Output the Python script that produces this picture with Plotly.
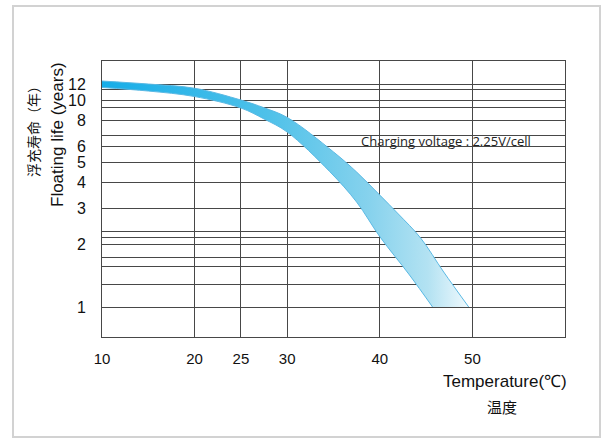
import math
import plotly.graph_objects as go

# ---- data ----
temp_upper = [10, 15, 20, 25, 27.5, 30, 35, 37.5, 40, 42, 44.4, 46.9, 49.6]
life_upper = [12.41, 12.0, 11.45, 10.04, 9.21, 8.27, 5.63, 4.50, 3.48, 2.82, 2.16, 1.477, 1.0]

temp_lower = [10, 15, 20, 25, 27.5, 30, 34.6, 37.5, 40, 43.2, 45.7]
life_lower = [11.55, 11.10, 10.44, 9.19, 8.13, 7.03, 4.52, 3.22, 2.19, 1.43, 1.0]

x_ticks = [10, 20, 25, 30, 40, 50, 60]
x_labels = ["10", "20", "25", "30", "40", "50", ""]

y_ticks = [12, 11.27, 10, 9.19, 8, 6.80, 6, 5, 4, 3, 2.33, 2.16, 2, 1.727, 1.562, 1.292, 1]
y_labels = ["12", "", "10", "", "8", "", "6", "5", "4", "3", "", "", "2", "", "", "", "1"]

note_text = "Charging voltage : 2.25V/cell"
note_pos = (47.1, 6.36)

GRID = "#474747"
EDGE = "#5ab9e4"

fig = go.Figure()
fig.add_trace(go.Scatter(
    x=temp_lower, y=life_lower, mode="lines",
    line=dict(color=EDGE, width=1, shape="spline", smoothing=1.0),
    hoverinfo="skip", showlegend=False,
))
fig.add_trace(go.Scatter(
    x=temp_upper, y=life_upper, mode="lines",
    line=dict(color=EDGE, width=1, shape="spline", smoothing=1.0),
    fill="tonexty",
    fillgradient=dict(
        type="horizontal", start=10, stop=50,
        colorscale=[[0, "#16ade8"], [0.45, "#4fc1e9"], [0.72, "#86d2ed"],
                    [0.88, "#b3e2f2"], [1, "#f5fbfe"]],
    ),
    hoverinfo="skip", showlegend=False,
))

fig.update_xaxes(
    range=[10, 60], tickvals=x_ticks, ticktext=x_labels,
    showgrid=True, gridcolor=GRID, gridwidth=1,
    showline=True, linecolor=GRID, linewidth=1, mirror=True,
    zeroline=False, ticks="", ticklabelstandoff=8,
    tickfont=dict(family="Liberation Sans, Arial", size=15, color="#111"),
)
fig.update_yaxes(
    type="log", range=[-0.1452, 1.1907], tickvals=y_ticks, ticktext=y_labels,
    showgrid=True, gridcolor=GRID, gridwidth=1,
    showline=True, linecolor=GRID, linewidth=1, mirror=True,
    zeroline=False, ticks="", ticklabelstandoff=12,
    tickfont=dict(family="Liberation Sans, Arial", size=16, color="#111"),
)

common = dict(showarrow=False, xanchor="center", yanchor="middle")
fig.add_annotation(text=note_text, x=note_pos[0], y=math.log10(note_pos[1]),
                   xref="x", yref="y",
                   font=dict(family="Open Sans", size=13, color="#222"), **common)
fig.add_annotation(text="Temperature(℃)", xref="paper", yref="paper",
                   x=(505 - 102) / 463, y=(337 - 381) / 276,
                   font=dict(family="Liberation Sans, Arial", size=17, color="#111"), **common)
fig.add_annotation(text="温度", xref="paper", yref="paper",
                   x=(502 - 102) / 463, y=(337 - 406) / 276,
                   font=dict(family="Noto Sans CJK SC", size=15, color="#111"), **common)
fig.add_annotation(text="Floating life (years)", xref="paper", yref="paper",
                   x=(57 - 102) / 463, y=(337 - 135) / 276, textangle=-90,
                   font=dict(family="Liberation Sans, Arial", size=17, color="#111"), **common)
fig.add_annotation(text="浮充寿命（年）", xref="paper", yref="paper",
                   x=(33 - 102) / 463, y=(337 - 128) / 276, textangle=-90,
                   font=dict(family="Noto Sans CJK SC", size=14, color="#111"), **common)

# light outer frame
fig.add_shape(type="rect", xref="paper", yref="paper",
              x0=(13 - 102) / 463, x1=(600 - 102) / 463,
              y0=(337 - 437) / 276, y1=(337 - 6) / 276,
              line=dict(color="#d2d2d2", width=2), layer="below")

fig.update_layout(
    width=601, height=439,
    margin=dict(l=102, r=36, t=61, b=102),
    paper_bgcolor="white", plot_bgcolor="white",
)

fig.write_html("out.html", config={"displayModeBar": False},
               post_script="document.body.style.margin='0';")
